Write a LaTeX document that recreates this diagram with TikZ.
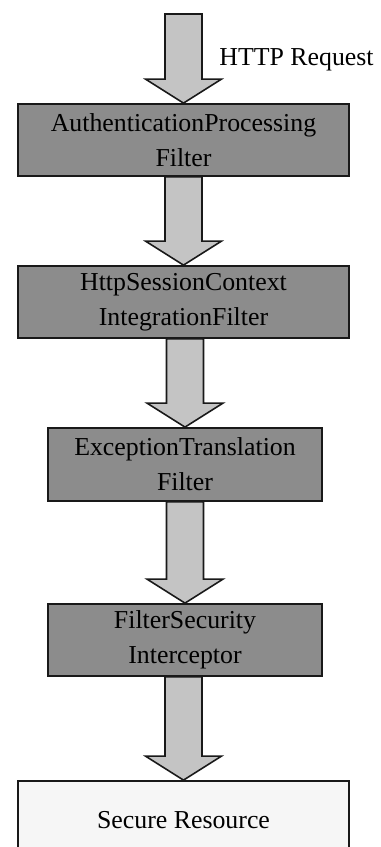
\documentclass[tikz,border=0pt]{standalone}
\usepackage{fontspec}
\setmainfont{Liberation Serif}
\usetikzlibrary{positioning, calc}
\definecolor{boxgray}{RGB}{140,140,140}
\definecolor{arrowgray}{RGB}{196,196,196}
\definecolor{resourcebg}{RGB}{246,246,246}
\definecolor{edgeblack}{RGB}{25,25,25}

\begin{document}
\begin{tikzpicture}[
    filterbox/.style={draw=edgeblack, line width=1pt, fill=boxgray, minimum height=1.44cm,
        align=center, inner sep=0pt, font=\fontsize{14.7}{20}\selectfont},
    fatarrow/.style={draw=edgeblack, line width=0.9pt, fill=arrowgray, line join=miter}
]
    % page frame
    \useasboundingbox (0,0) rectangle (7.62,16.94);
    \clip (0,0) rectangle (7.62,16.94);

    % request comes in at the top
    \coordinate (req) at (3.68,16.66);
    \node[anchor=west, inner sep=0pt, font=\fontsize{14.7}{20}\selectfont] (reqlabel) at (4.38,15.74) {HTTP Request};

    % filter chain
    \node[filterbox, minimum width=6.62cm] (auth) at (3.67,14.14) {AuthenticationProcessing\\Filter};
    \node[filterbox, minimum width=6.62cm] (session) at (3.67,10.9) {HttpSessionContext\\IntegrationFilter};
    \node[filterbox, minimum width=5.48cm, minimum height=1.46cm] (exception) at (3.7,7.65) {ExceptionTranslation\\Filter};
    \node[filterbox, minimum width=5.48cm] (interceptor) at (3.7,4.14) {FilterSecurity\\Interceptor};

    % target
    \node[filterbox, fill=resourcebg, minimum width=6.62cm, minimum height=1.56cm] (resource) at (3.67,0.54) {Secure Resource};

    % block arrows between the stages
    \foreach \src/\dst in {req/auth, auth.south/session, session.south/exception,
                           exception.south/interceptor, interceptor.south/resource} {
        \filldraw[fatarrow] let \p1=(\src), \p2=(\dst.north) in
            (\x2-0.37cm,\y1) -- (\x2-0.37cm,\y2+0.48cm) -- (\x2-0.76cm,\y2+0.48cm) -- (\p2)
            -- (\x2+0.76cm,\y2+0.48cm) -- (\x2+0.37cm,\y2+0.48cm) -- (\x2+0.37cm,\y1) -- cycle;
    }
\end{tikzpicture}
\end{document}
